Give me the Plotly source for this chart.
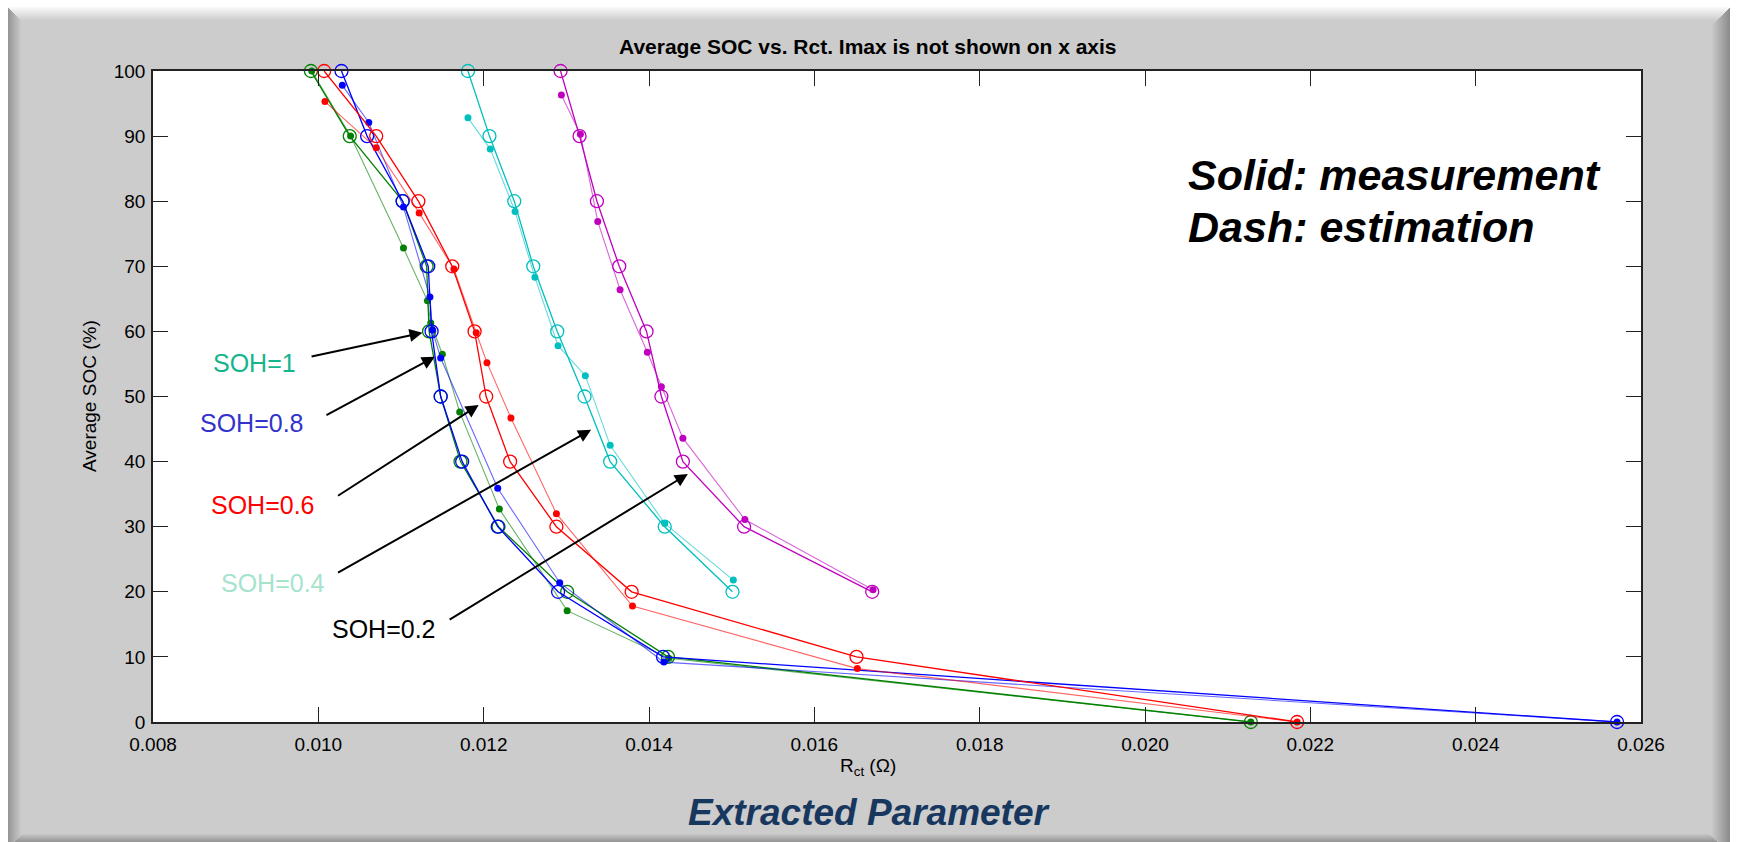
import plotly.graph_objects as go

# ---------------- data ----------------
soc_full = [100, 90, 80, 70, 60, 50, 40, 30, 20, 10, 0]
soc_short = [100, 90, 80, 70, 60, 50, 40, 30, 20]

# SOH = 1 (green)
meas_rct_soh10 = [0.00991, 0.01038, 0.01102, 0.01131, 0.01134, 0.01148, 0.01172, 0.01218, 0.01301, 0.01423, 0.02128]
est_rct_soh10 = [0.00992, 0.01039, 0.01103, 0.01132, 0.01136, 0.01150, 0.01171, 0.01219, 0.01301, 0.01424, 0.02128]
est_soc_soh10 = [100, 90, 72.8, 64.7, 61.3, 56.5, 47.6, 32.7, 17.1, 9.8, 0]

# SOH = 0.8 (blue)
meas_rct_soh08 = [0.01028, 0.01059, 0.01102, 0.01133, 0.01137, 0.01148, 0.01174, 0.01217, 0.01290, 0.01417, 0.02571]
est_rct_soh08 = [0.01029, 0.01061, 0.01103, 0.01135, 0.01138, 0.01148, 0.01217, 0.01292, 0.01418, 0.02571]
est_soc_soh08 = [97.8, 92.1, 79.1, 65.3, 60.2, 55.9, 35.9, 21.4, 9.2, 0]

# SOH = 0.6 (red)
meas_rct_soh06 = [0.01007, 0.01070, 0.01121, 0.01162, 0.01189, 0.01203, 0.01232, 0.01288, 0.01379, 0.01651, 0.02184]
est_rct_soh06 = [0.01008, 0.01070, 0.01122, 0.01164, 0.01191, 0.01204, 0.01233, 0.01288, 0.01380, 0.01652, 0.02184]
est_soc_soh06 = [95.3, 88.2, 78.2, 69.6, 59.8, 55.2, 46.7, 32.0, 17.8, 8.2, 0]

# SOH = 0.4 (cyan)
meas_rct_soh04 = [0.01181, 0.01207, 0.01237, 0.01260, 0.01289, 0.01322, 0.01353, 0.01419, 0.01501]
est_rct_soh04 = [0.01181, 0.01208, 0.01238, 0.01262, 0.01290, 0.01323, 0.01353, 0.01419, 0.01502]
est_soc_soh04 = [92.8, 88.0, 78.4, 68.3, 57.8, 53.2, 42.5, 30.5, 21.8]

# SOH = 0.2 (magenta)
meas_rct_soh02 = [0.01293, 0.01316, 0.01337, 0.01364, 0.01397, 0.01415, 0.01441, 0.01515, 0.01670]
est_rct_soh02 = [0.01294, 0.01317, 0.01338, 0.01365, 0.01398, 0.01415, 0.01441, 0.01516, 0.01671]
est_soc_soh02 = [96.3, 90.3, 76.9, 66.4, 56.8, 51.5, 43.6, 31.1, 20.3]

x_ticks = [0.008, 0.010, 0.012, 0.014, 0.016, 0.018, 0.020, 0.022, 0.024, 0.026]
y_ticks = [0, 10, 20, 30, 40, 50, 60, 70, 80, 90, 100]

# SOH callouts: label, colour, arrow tip (Rct, SOC), arrow tail (Rct, SOC)
callout_labels = ["SOH=1", "SOH=0.8", "SOH=0.6", "SOH=0.4", "SOH=0.2"]
callout_colors = ["#14B58C", "#3333CC", "#FF0000", "#A6E3CC", "#000000"]
callout_tip = [(0.01126, 59.8), (0.01141, 56.1), (0.01194, 48.7), (0.01330, 44.9), (0.01447, 38.1)]
callout_tail = [(0.00990, 56.1), (0.01008, 47.0), (0.01022, 34.6), (0.01022, 22.8), (0.01157, 15.6)]

# ---------------- layout geometry (pixels) ----------------
W, H = 1737, 842
PL, PR, PT, PB = 153, 1641, 71, 722   # plot-area edges


def px_x(px):
    return (px - PL) / (PR - PL)


def px_y(py):
    return (PB - py) / (PB - PT)


FONT = "Liberation Sans, Arial, sans-serif"

fig = go.Figure()

series = [
    (meas_rct_soh10, soc_full, est_rct_soh10, est_soc_soh10, (0, 128, 0)),
    (meas_rct_soh08, soc_full, est_rct_soh08, est_soc_soh08, (0, 0, 255)),
    (meas_rct_soh06, soc_full, est_rct_soh06, est_soc_soh06, (255, 0, 0)),
    (meas_rct_soh04, soc_short, est_rct_soh04, est_soc_soh04, (0, 191, 191)),
    (meas_rct_soh02, soc_short, est_rct_soh02, est_soc_soh02, (191, 0, 191)),
]

for mx, my, ex, ey, (r, g, b) in series:
    solid = f"rgb({r},{g},{b})"
    light = f"rgba({r},{g},{b},0.6)"
    # estimation: filled dots on a lighter line
    fig.add_trace(go.Scatter(
        x=ex, y=ey, mode="lines+markers", cliponaxis=False,
        line=dict(color=light, width=1.1),
        marker=dict(symbol="circle", size=7, color=solid),
        showlegend=False, hoverinfo="skip"))
    # measurement: open circles on a solid line
    fig.add_trace(go.Scatter(
        x=mx, y=my, mode="lines+markers", cliponaxis=False,
        line=dict(color=solid, width=1.3),
        marker=dict(symbol="circle-open", size=13, color=solid, line=dict(width=1.3)),
        showlegend=False, hoverinfo="skip"))

# ---------------- frame with bevelled edges ----------------
shapes = []


def rect(x0, y0, x1, y1, color):
    shapes.append(dict(type="rect", xref="paper", yref="paper",
                       x0=px_x(x0), x1=px_x(x1), y0=px_y(y1), y1=px_y(y0),
                       fillcolor=color, line=dict(width=0), layer="below"))


def grey(v):
    v = int(round(v))
    return f"rgb({v},{v},{v})"


# white surround
rect(0, 0, W, 7, "white")
rect(0, 0, 8, H, "white")
rect(1730, 0, W, H, "white")

# left edge: dark to mid grey
for j in range(14):
    rect(8 + j, 7 + j, 9 + j, H, grey(150 + (204 - 150) * j / 13))
# right edge: mid grey to dark
for j in range(20):
    rect(1710 + j, 27 - j, 1711 + j, H, grey(206 - (206 - 140) * j / 19))
# top edge: light to mid grey
for i in range(14):
    rect(8 + i, 7 + i, 1730 - i, 8 + i, grey(248 - (248 - 204) * i / 13))
# bottom edge
for i in range(8):
    rect(8 + 14 - i, 834 + i, 1730 - 20 + i, 835 + i, grey(196 - (196 - 150) * i / 7))

# ---------------- annotations ----------------
ann = []

ann.append(dict(text="<b>Average SOC vs. Rct. Imax is not shown on x axis</b>",
                x=px_x(868), y=px_y(47), xref="paper", yref="paper",
                xanchor="center", yanchor="middle", showarrow=False,
                font=dict(family=FONT, size=21, color="black")))
ann.append(dict(text="R<sub>ct</sub> (Ω)",
                x=px_x(868), y=px_y(767), xref="paper", yref="paper",
                xanchor="center", yanchor="middle", showarrow=False,
                font=dict(family=FONT, size=19, color="black")))
ann.append(dict(text="Average SOC (%)", textangle=-90,
                x=px_x(89), y=px_y(396), xref="paper", yref="paper",
                xanchor="center", yanchor="middle", showarrow=False,
                font=dict(family=FONT, size=19, color="black")))
ann.append(dict(text="<b><i>Extracted Parameter</i></b>",
                x=px_x(869), y=px_y(812), xref="paper", yref="paper",
                xanchor="center", yanchor="middle", showarrow=False,
                font=dict(family=FONT, size=37, color="#17375E")))
ann.append(dict(text="<b><i>Solid: measurement</i></b>",
                x=px_x(1186), y=px_y(175), xref="paper", yref="paper",
                xanchor="left", yanchor="middle", showarrow=False,
                font=dict(family=FONT, size=43, color="black")))
ann.append(dict(text="<b><i>Dash: estimation</i></b>",
                x=px_x(1186), y=px_y(227), xref="paper", yref="paper",
                xanchor="left", yanchor="middle", showarrow=False,
                font=dict(family=FONT, size=43, color="black")))

label_right = [298, 306, 317, 327, 438]
label_mid = [363, 423, 505, 583, 629]
for lab, col, (tx, ty), (sx, sy), rx, my in zip(callout_labels, callout_colors, callout_tip,
                                                 callout_tail, label_right, label_mid):
    ann.append(dict(text="", x=tx, y=ty, xref="x", yref="y",
                    ax=sx, ay=sy, axref="x", ayref="y",
                    showarrow=True, arrowhead=2, arrowsize=1.3, arrowwidth=2,
                    arrowcolor="black"))
    ann.append(dict(text=lab, x=px_x(rx), y=px_y(my), xref="paper", yref="paper",
                    xanchor="right", yanchor="middle", showarrow=False,
                    font=dict(family=FONT, size=25, color=col)))

axis_common = dict(showline=True, linecolor="#222222", linewidth=1.5, mirror="ticks",
                   ticks="inside", ticklen=15, tickwidth=1.2, tickcolor="#222222",
                   showgrid=False, zeroline=False,
                   tickfont=dict(family=FONT, size=19, color="black"))

fig.update_layout(
    width=W, height=H, autosize=False,
    margin=dict(l=PL, r=W - PR, t=PT, b=H - PB, pad=0),
    paper_bgcolor="#cccccc", plot_bgcolor="white",
    xaxis=dict(range=[0.008, 0.026], tickvals=x_ticks,
               ticktext=[f"{v:.3f}" for v in x_ticks], ticklabelstandoff=4, **axis_common),
    yaxis=dict(range=[0, 100], tickvals=y_ticks,
               ticktext=[str(v) for v in y_ticks], ticklabelstandoff=2, **axis_common),
    shapes=shapes, annotations=ann,
)

fig.write_html("out.html")
